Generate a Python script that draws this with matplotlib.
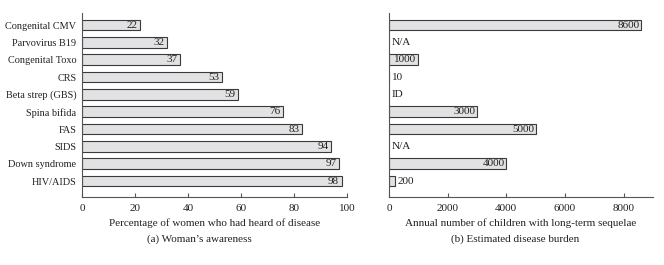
import matplotlib.pyplot as plt

plt.rcParams['font.family'] = ['Liberation Serif', 'DejaVu Serif']

## Data ##
diseases = ["Congenital CMV", "Parvovirus B19", "Congenital Toxo", "CRS",
            "Beta strep (GBS)", "Spina bifida", "FAS", "SIDS",
            "Down syndrome", "HIV/AIDS"]
awareness = [22, 32, 37, 53, 59, 76, 83, 94, 97, 98]
burden = [8600, None, 1000, 10, None, 3000, 5000, None, 4000, 200]
burden_labels = ["8600", "N/A", "1000", "10", "ID", "3000", "5000", "N/A", "4000", "200"]

bar_face = "#e2e2e4"
bar_edge = "#3a3a3a"
text_col = "#222222"
fs = 8

fig = plt.figure(figsize=(6.64, 2.65), dpi=100)
ax1 = fig.add_axes([0.1235, 0.2566, 0.399, 0.694])
ax2 = fig.add_axes([0.5858, 0.2566, 0.3976, 0.694])

ypos = list(range(len(diseases) - 1, -1, -1))

# (a) awareness
ax1.barh(ypos, awareness, height=0.62, color=bar_face, edgecolor=bar_edge, linewidth=0.8)
for y, v in zip(ypos, awareness):
    ax1.text(v - 1.0, y, str(v), ha="right", va="center", fontsize=fs, color=text_col)
ax1.set_xlim(0, 100)
ax1.set_xticks([0, 20, 40, 60, 80, 100])
ax1.set_yticks(ypos)
ax1.set_yticklabels(diseases)
ax1.set_xlabel("Percentage of women who had heard of disease", fontsize=fs, color=text_col, labelpad=4)

# (b) burden
vals = [v if v is not None else 0 for v in burden]
drawn = [y for y, v in zip(ypos, burden) if v is not None]
ax2.barh(drawn, [v for v in burden if v is not None], height=0.62,
         color=bar_face, edgecolor=bar_edge, linewidth=0.8)
for y, v, lab in zip(ypos, vals, burden_labels):
    if v >= 1000:
        ax2.text(v - 60, y, lab, ha="right", va="center", fontsize=fs, color=text_col)
    else:
        ax2.text(v + 100, y, lab, ha="left", va="center", fontsize=fs, color=text_col)
ax2.set_xlim(0, 9000)
ax2.set_xticks([0, 2000, 4000, 6000, 8000])
ax2.set_yticks([])
ax2.set_xlabel("Annual number of children with long-term sequelae", fontsize=fs, color=text_col, labelpad=4)

for ax in (ax1, ax2):
    ax.set_ylim(-0.92, 9.69)
    ax.spines["top"].set_visible(False)
    ax.spines["right"].set_visible(False)
    ax.spines["left"].set_color("#555555")
    ax.spines["bottom"].set_color("#555555")
    ax.tick_params(axis="x", direction="in", length=3, labelsize=fs, colors="#555555", labelcolor=text_col, pad=5)
    ax.tick_params(axis="y", length=0, labelsize=7.4, labelcolor=text_col, pad=4)

fig.text(0.301, 0.098, "(a) Woman\u2019s awareness", ha="center", va="center", fontsize=fs, color=text_col)
fig.text(0.776, 0.098, "(b) Estimated disease burden", ha="center", va="center", fontsize=fs, color=text_col)

plt.savefig("out.png", dpi=100)
